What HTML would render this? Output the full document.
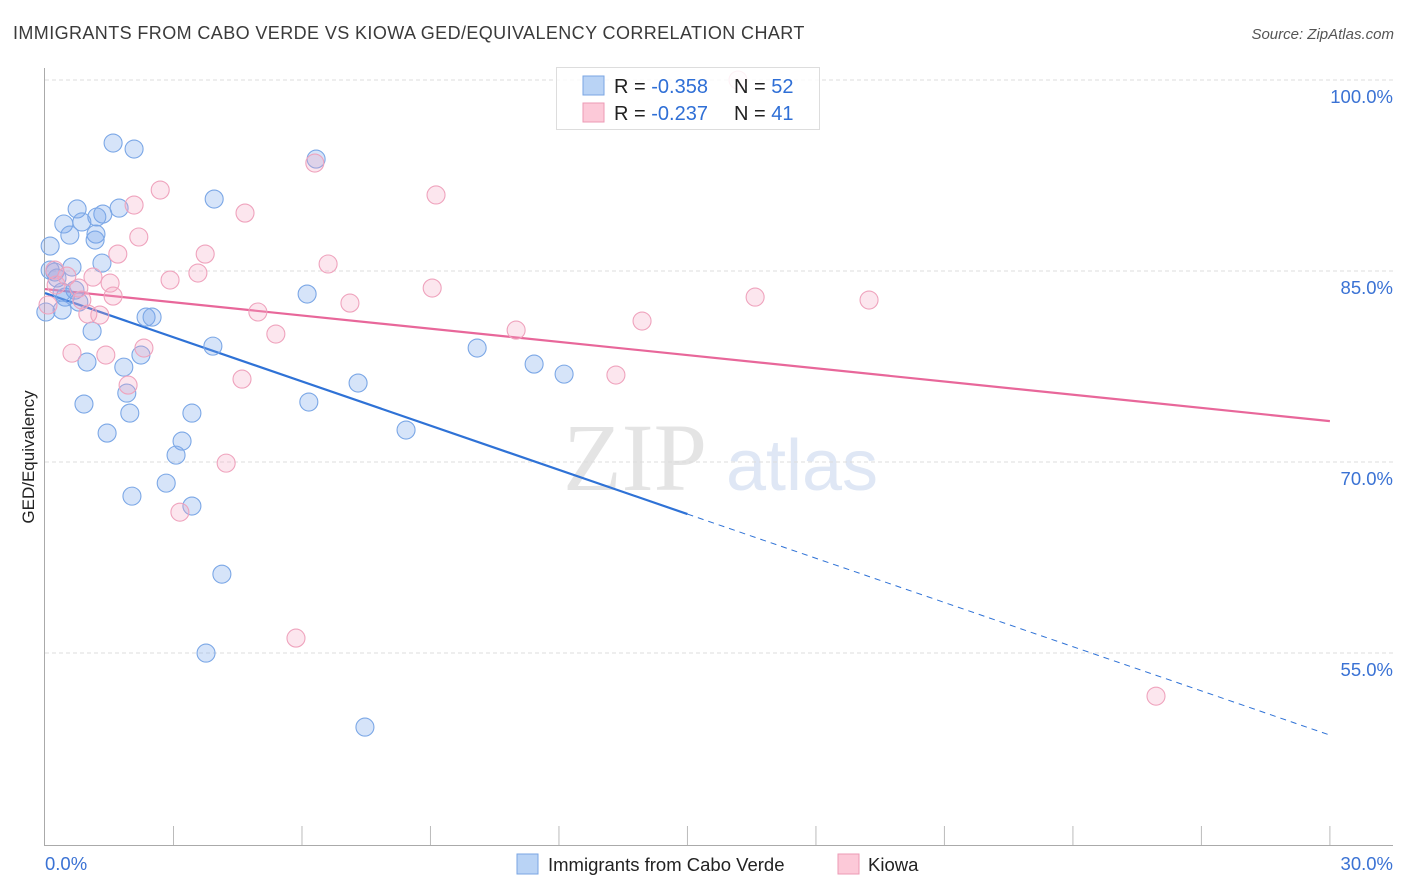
<!DOCTYPE html>
<html><head><meta charset="utf-8"><style>
body{margin:0;background:#fff;font-family:"Liberation Sans",sans-serif;}
svg{display:block}
</style></head><body>
<svg id="c" width="1406" height="892" xmlns="http://www.w3.org/2000/svg">
<text x="13" y="39" font-size="18" fill="#3a3a3a" letter-spacing="0.4">IMMIGRANTS FROM CABO VERDE VS KIOWA GED/EQUIVALENCY CORRELATION CHART</text>
<text x="1394" y="39" font-size="15" fill="#555" font-style="italic" text-anchor="end">Source: ZipAtlas.com</text>
<text transform="translate(34,457) rotate(-90)" font-size="17" fill="#222" text-anchor="middle">GED/Equivalency</text>
<g><text x="635" y="490" font-size="96" fill="#e4e4e4" font-family="Liberation Serif" text-anchor="middle">ZIP</text><text x="802" y="490" font-size="72" fill="#dfe7f5" text-anchor="middle">atlas</text></g>
<g id="grid"></g><g id="axes"></g><g id="lines"></g><g id="pts"></g>
<g>
<rect x="556.5" y="67.5" width="263" height="62" fill="#fff" fill-opacity="0.85" stroke="#ddd"/>
<rect x="583" y="76" width="21" height="19" fill="#b9d3f5" stroke="#7aa6e3"/>
<rect x="583" y="103" width="21" height="19" fill="#fcc9d8" stroke="#ec9ab5"/>
<text x="614" y="93" font-size="20" fill="#222">R = <tspan fill="#2f6fd6">-0.358</tspan><tspan x="734">N = </tspan><tspan fill="#2f6fd6">52</tspan></text>
<text x="614" y="120" font-size="20" fill="#222">R = <tspan fill="#2f6fd6">-0.237</tspan><tspan x="734">N = </tspan><tspan fill="#2f6fd6"> 41</tspan></text>
</g>
<g>
<rect x="517" y="854" width="21" height="20" fill="#b9d3f5" stroke="#7aa6e3"/>
<text x="548" y="871" font-size="18.5" fill="#222">Immigrants from Cabo Verde</text>
<rect x="838" y="854" width="21" height="20" fill="#fcc9d8" stroke="#ec9ab5"/>
<text x="868" y="871" font-size="18.5" fill="#222">Kiowa</text>
</g>
</svg>
<script>
const yTicks=[100,85,70,55];
const yTickLabels=["100.0%","85.0%","70.0%","55.0%"];
const xTicks=[0,3,6,9,12,15,18,21,24,27,30];
const blueX=[1.59,2.08,6.33,3.95,0.75,1.73,1.35,1.21,0.44,0.86,0.58,1.19,1.17,0.12,1.33,0.63,0.23,0.28,0.70,0.40,0.79,0.40,0.02,6.12,2.36,2.50,1.10,3.92,10.09,2.24,0.98,1.84,11.42,12.12,7.31,1.91,0.91,6.16,1.98,3.43,1.45,8.43,3.20,3.06,2.83,2.03,3.43,4.13,3.76,7.47,0.12,0.47];
const blueY=[95.05,94.58,93.79,90.65,89.87,89.94,89.47,89.24,88.69,88.85,87.82,87.90,87.43,86.96,85.62,85.31,84.92,84.45,83.50,83.35,82.56,81.93,81.78,83.19,81.38,81.38,80.28,79.10,78.95,78.40,77.85,77.45,77.69,76.90,76.20,75.41,74.55,74.71,73.84,73.84,72.27,72.51,71.64,70.54,68.34,67.32,66.54,61.19,54.99,49.18,85.07,82.95];
const pinkX=[2.69,9.13,2.08,4.67,2.19,1.70,3.74,6.30,6.61,3.57,2.92,1.12,1.52,9.04,0.79,1.59,16.58,19.24,7.12,4.97,1.28,1.00,11.00,5.39,13.94,2.31,0.63,1.42,1.94,4.60,13.33,4.23,3.15,5.86,25.94,0.23,0.51,0.07,0.86,16.18,0.26];
const pinkY=[91.36,90.97,90.18,89.55,87.67,86.33,86.33,93.48,85.55,84.84,84.29,84.52,84.05,83.66,83.66,83.03,82.95,82.72,82.48,81.78,81.54,81.62,80.36,80.05,81.07,78.95,78.55,78.40,76.04,76.51,76.83,69.91,66.06,56.17,51.61,85.07,84.60,82.33,82.72,100.0,83.9];
const blueTrend=[83.27,48.55];
const pinkTrend=[83.58,73.21];
const blueSolidEnd=15;
const NS="http://www.w3.org/2000/svg";
const X=v=>45+v*42.83, Y=v=>80+(100-v)*12.733;
function mk(t,a,p){const e=document.createElementNS(NS,t);for(const k in a)e.setAttribute(k,a[k]);p.appendChild(e);return e;}
const grid=document.getElementById('grid'),axes=document.getElementById('axes'),lines=document.getElementById('lines'),pts=document.getElementById('pts');
yTicks.forEach((v,i)=>{
 const l=mk('line',{x1:45,x2:1393,y1:Y(v),y2:Y(v),stroke:'#ddd','stroke-dasharray':'4 3'},grid);
 
 
 const t=mk('text',{x:1393,y:Y(v)+23,'font-size':18.5,fill:'#3a72d4','text-anchor':'end'},grid);
 t.textContent=yTickLabels[i];
 
 
});
let a=mk('line',{x1:44.5,x2:44.5,y1:68,y2:845,stroke:'#aaa'},axes);


a=mk('line',{x1:44,x2:1393,y1:845.5,y2:845.5,stroke:'#aaa'},axes);


xTicks.forEach(v=>{if(v===0)return;const t=mk('line',{x1:X(v),x2:X(v),y1:826,y2:845,stroke:'#bbb'},axes);
 
 });
let t=mk('text',{x:45,y:870,'font-size':18.5,fill:'#3a72d4'},axes);t.textContent='0.0%';


t=mk('text',{x:1393,y:870,'font-size':18.5,fill:'#3a72d4','text-anchor':'end'},axes);t.textContent='30.0%';


function drawPts(xs,ys,fill,stroke,name){xs.forEach((x,i)=>{const c=mk('circle',{cx:X(x),cy:Y(ys[i]),r:9,fill:fill,stroke:stroke,'stroke-width':1.1},pts);
 
 });}
drawPts(blueX,blueY,'rgba(120,165,235,0.3)','#7ba7e6','point-cabo-verde');
drawPts(pinkX,pinkY,'rgba(245,165,195,0.28)','#efa3bd','point-kiowa');
const bAt=v=>blueTrend[0]+(blueTrend[1]-blueTrend[0])*v/30;
let l=mk('line',{x1:X(0),y1:Y(bAt(0)),x2:X(blueSolidEnd),y2:Y(bAt(blueSolidEnd)),stroke:'#2f72d6','stroke-width':2.2},lines);


l=mk('line',{x1:X(blueSolidEnd),y1:Y(bAt(blueSolidEnd)),x2:X(30),y2:Y(bAt(30)),stroke:'#2f72d6','stroke-width':1,'stroke-dasharray':'6 5'},lines);


l=mk('line',{x1:X(0),y1:Y(pinkTrend[0]),x2:X(30),y2:Y(pinkTrend[1]),stroke:'#e8679a','stroke-width':2.2},lines);


</script>
</body></html>
